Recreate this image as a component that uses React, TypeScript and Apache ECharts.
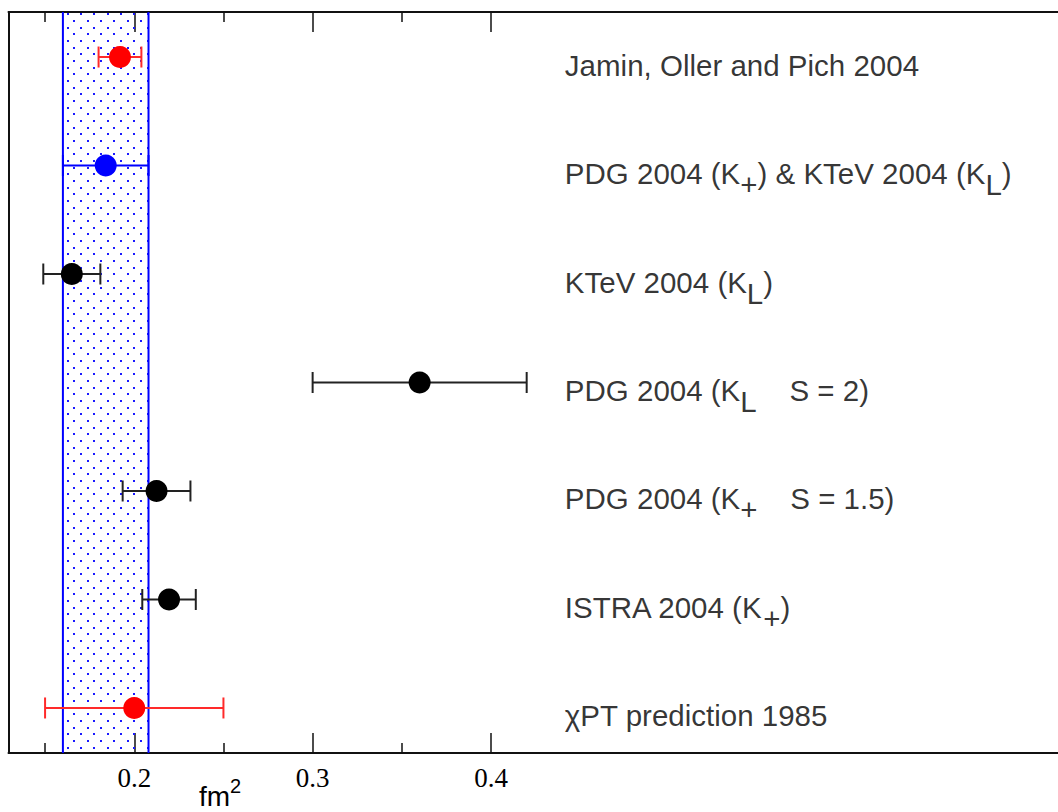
import React, { useEffect, useRef } from 'react';
import * as echarts from 'echarts';

// ---- data ----
const LABELS: string[] = [
  '{n|χPT prediction 1985}',
  '{n|ISTRA 2004 (K}{s|+}{n|)}',
  '{n|PDG 2004 (K}{s|+}{n|\u00a0\u00a0\u00a0\u00a0S = 1.5)}',
  '{n|PDG 2004 (K}{s|L}{n|\u00a0\u00a0\u00a0\u00a0S = 2)}',
  '{n|KTeV 2004 (K}{s|L}{n|)}',
  '{n|PDG 2004 (K}{s|+}{n|) & KTeV 2004 (K}{s|L}{n|)}',
  '{n|Jamin, Oller and Pich 2004}',
];
const ROWS: number[] = [1, 2, 3, 4, 5, 6, 7];
const VALUES: number[] = [0.2, 0.2195, 0.2125, 0.36, 0.165, 0.184, 0.192];
const ERRORS: number[] = [0.05, 0.015, 0.019, 0.06, 0.016, 0.024, 0.012];
const POINT_COLORS: string[] = ['#ff0000', '#000000', '#000000', '#000000', '#000000', '#0000ff', '#ff0000'];
const BAR_COLORS: string[] = ['#ff2a2a', '#222222', '#222222', '#222222', '#222222', '#0000ff', '#ff2a2a'];
const BAND: number[] = [0.16, 0.208];
const MAJOR_TICKS: number[] = [0.2, 0.3, 0.4];
const MINOR_TICKS: number[] = [0.15, 0.25, 0.35];
const TICK_LABELS: string[] = ['0.2', '0.3', '0.4'];
const LABEL_X = 0.4414;

const X_MIN = 0.1295;
const X_MAX = 0.8;
const Y_MIN = 0.585;
const Y_MAX = 7.415;

function makeDotPattern(): HTMLCanvasElement {
  const c = document.createElement('canvas');
  c.width = 40;
  c.height = 40;
  const ctx = c.getContext('2d')!;
  ctx.fillStyle = '#1a1aff';
  for (let r = 0; r < 6; r++) {
    const y = Math.round(r * (40 / 6));
    const off = r % 2 === 0 ? 0 : 40 / 6;
    for (let k = 0; k < 3; k++) {
      const x = Math.round(off + k * (40 / 3));
      ctx.fillRect(x, y, 2, 2);
    }
  }
  return c;
}

export default function App() {
  const ref = useRef<HTMLDivElement>(null);
  useEffect(() => {
    if (!ref.current) return;
    const chart = echarts.init(ref.current, undefined, { renderer: 'svg' });
    const pattern = makeDotPattern();
    const axisColor = '#111111';
    const baseX = {
      type: 'value' as const,
      min: X_MIN,
      max: X_MAX,
      splitLine: { show: false },
    };
    const tickLine = { color: axisColor, width: 1.5 };
    const option: any = {
      animation: false,
      backgroundColor: '#ffffff',
      grid: { left: 8.5, top: 12, height: 741, width: 1196, containLabel: false, outerBoundsMode: 'none' },
      xAxis: [
        {
          ...baseX,
          position: 'bottom',
          axisLine: { show: true, lineStyle: { color: axisColor, width: 2 } },
          axisTick: { show: true, inside: true, length: 20, customValues: MAJOR_TICKS, lineStyle: tickLine },
          axisLabel: {
            show: true,
            customValues: MAJOR_TICKS,
            margin: 11,
            color: '#000',
            fontFamily: 'Liberation Serif',
            fontSize: 27,
            formatter: (v: number) => TICK_LABELS[MAJOR_TICKS.findIndex((t) => Math.abs(t - v) < 1e-9)] ?? '',
          },
        },
        {
          ...baseX,
          position: 'bottom',
          axisLine: { show: false },
          axisTick: { show: true, inside: true, length: 10, customValues: MINOR_TICKS, lineStyle: tickLine },
          axisLabel: { show: false },
        },
        {
          ...baseX,
          position: 'top',
          axisLine: { show: true, lineStyle: { color: axisColor, width: 2 } },
          axisTick: { show: true, inside: true, length: 20, customValues: MAJOR_TICKS, lineStyle: tickLine },
          axisLabel: { show: false },
        },
        {
          ...baseX,
          position: 'top',
          axisLine: { show: false },
          axisTick: { show: true, inside: true, length: 10, customValues: MINOR_TICKS, lineStyle: tickLine },
          axisLabel: { show: false },
        },
      ],
      yAxis: [
        {
          type: 'value',
          min: Y_MIN,
          max: Y_MAX,
          position: 'left',
          axisLine: { show: true, lineStyle: { color: axisColor, width: 2 } },
          axisTick: { show: false },
          axisLabel: { show: false },
          splitLine: { show: false },
        },
      ],
      graphic: [
        {
          type: 'text',
          left: 199,
          top: 776,
          style: {
            text: '{a|fm}{b|2}',
            rich: {
              a: { fontFamily: 'Liberation Sans', fontSize: 28, lineHeight: 30, padding: [6, 0, 0, 0], verticalAlign: 'top', fill: '#000' },
              b: { fontFamily: 'Liberation Sans', fontSize: 20, lineHeight: 20, verticalAlign: 'top', fill: '#000' },
            },
          },
        },
      ],
      series: [
        {
          type: 'custom',
          xAxisIndex: 0,
          yAxisIndex: 0,
          data: [[BAND[0], BAND[1]]],
          silent: true,
          z: 1,
          renderItem: (params: any, api: any) => {
            const x0 = api.coord([api.value(0), Y_MIN])[0];
            const x1 = api.coord([api.value(1), Y_MIN])[0];
            const cs = params.coordSys;
            return {
              type: 'group',
              children: [
                {
                  type: 'rect',
                  shape: { x: x0, y: cs.y, width: x1 - x0, height: cs.height },
                  style: { fill: { image: pattern, repeat: 'repeat' } as any },
                },
                {
                  type: 'line',
                  shape: { x1: x0, y1: cs.y, x2: x0, y2: cs.y + cs.height },
                  style: { stroke: '#0000ff', lineWidth: 2 },
                },
                {
                  type: 'line',
                  shape: { x1: x1, y1: cs.y, x2: x1, y2: cs.y + cs.height },
                  style: { stroke: '#0000ff', lineWidth: 2 },
                },
              ],
            };
          },
        },
        {
          type: 'custom',
          xAxisIndex: 0,
          yAxisIndex: 0,
          silent: true,
          z: 2,
          data: ROWS.map((r, i) => [VALUES[i], r, ERRORS[i], i]),
          renderItem: (params: any, api: any) => {
            const v = api.value(0);
            const y = api.value(1);
            const e = api.value(2);
            const idx = api.value(3);
            const p1 = api.coord([v - e, y]);
            const p2 = api.coord([v + e, y]);
            const h = 10.5;
            const st = { stroke: BAR_COLORS[idx], lineWidth: 2 };
            return {
              type: 'group',
              children: [
                { type: 'line', shape: { x1: p1[0], y1: p1[1], x2: p2[0], y2: p2[1] }, style: st },
                { type: 'line', shape: { x1: p1[0], y1: p1[1] - h, x2: p1[0], y2: p1[1] + h }, style: st },
                { type: 'line', shape: { x1: p2[0], y1: p2[1] - h, x2: p2[0], y2: p2[1] + h }, style: st },
              ],
            };
          },
        },
        {
          type: 'scatter',
          xAxisIndex: 0,
          yAxisIndex: 0,
          z: 3,
          symbol: 'circle',
          symbolSize: 22,
          silent: true,
          itemStyle: { opacity: 1 },
          data: ROWS.map((r, i) => ({ value: [VALUES[i], r], itemStyle: { color: POINT_COLORS[i], opacity: 1 } })),
        },
        {
          type: 'scatter',
          xAxisIndex: 0,
          yAxisIndex: 0,
          z: 4,
          symbolSize: 0,
          silent: true,
          data: ROWS.map((r) => [LABEL_X, r]),
          label: {
            show: true,
            position: 'right',
            distance: 0,
            verticalAlign: 'top',
            offset: [0, -7],
            formatter: (p: any) => LABELS[p.dataIndex],
            rich: {
              n: { fontFamily: 'Liberation Sans', fontSize: 29.5, lineHeight: 31, verticalAlign: 'top', color: '#000' },
              s: { fontFamily: 'Liberation Sans', fontSize: 29.5, lineHeight: 31, verticalAlign: 'top', padding: [11, 0, 0, 0], color: '#000' },
            },
          },
        },
      ],
    };
    chart.setOption(option);
    return () => chart.dispose();
  }, []);
  return (
    <div
      ref={ref}
      style={{ position: 'absolute', left: 0, top: 0, width: 1058, height: 812, overflow: 'hidden' }}
    />
  );
}
